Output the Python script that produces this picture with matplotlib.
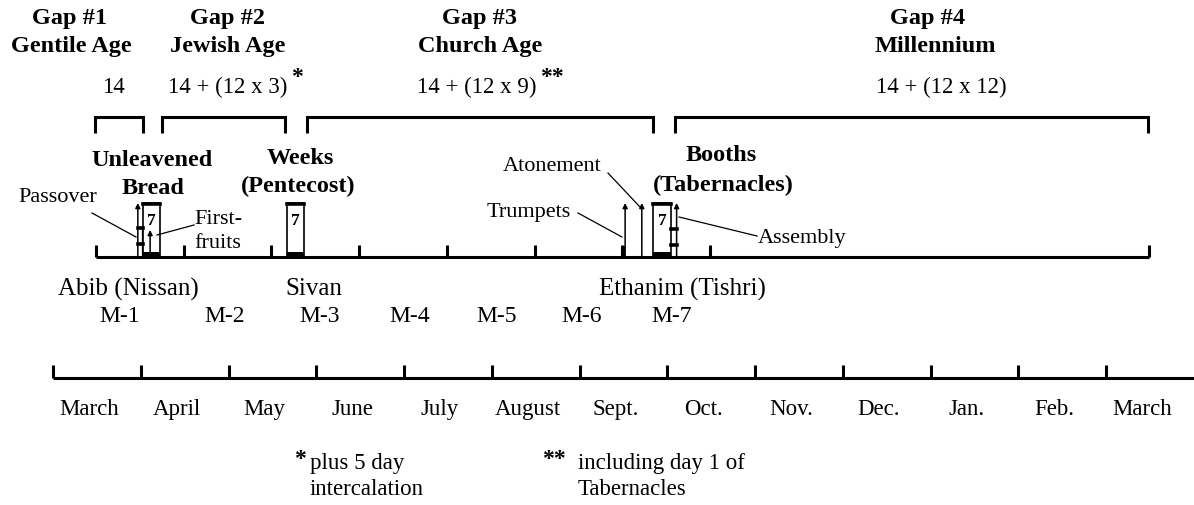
import matplotlib.pyplot as plt
from matplotlib.patches import Rectangle

SERIF = "Liberation Serif"

# solar calendar, counted in months from 1 March
solar_months = ["March", "April", "May", "June", "July", "August", "Sept.",
                "Oct.", "Nov.", "Dec.", "Jan.", "Feb.", "March"]

# lunar year starts about half a month after 1 March
lunar_start = 0.49
lunar_tick_months = [1, 2, 3, 4, 5, 6, 7, 8, 13]
lunar_labels = ["M-1", "M-2", "M-3", "M-4", "M-5", "M-6", "M-7"]
lunar_names = ["Abib (Nissan)", "Sivan", "Ethanim (Tishri)"]

# the four gaps (brackets), in months from 1 March
gap_titles = ["Gap #1", "Gap #2", "Gap #3", "Gap #4"]
gap_ages = ["Gentile Age", "Jewish Age", "Church Age", "Millennium"]
gap_counts = ["14", "14 + (12 x 3)", "14 + (12 x 9)", "14 + (12 x 12)"]
gap_marks = ["", "*", "**", ""]
gap_from = [0.48, 1.24, 2.90, 7.09]
gap_to = [1.03, 2.64, 6.84, 12.48]

# one-day feasts: lunar month, day
feast_names = ["Passover", "First-\nfruits", "Trumpets", "Atonement", "Assembly"]
feast_month = [1, 1, 7, 7, 7]
feast_day = [14.3, 18.5, 0.9, 6.6, 18.5]

# seven-day feasts: lunar month, first and last day
week_names = ["Unleavened\nBread", "Weeks\n(Pentecost)", "Booths\n(Tabernacles)"]
week_month = [1, 3, 7]
week_from = [16.0, 5.3, 10.4]
week_to = [22.0, 11.2, 16.6]


def lunar(month, day=0.0):
    return lunar_start + (month - 1) + day / 30.0


fig = plt.figure(figsize=(11.94, 5.06), dpi=100)
ax = fig.add_axes([0, 0, 1, 1])
ax.set_xlim(-53 / 87.75, 1141 / 87.75)
ax.set_ylim(506, 0)
ax.axis("off")
lay = fig.add_axes([0, 0, 1, 1])
lay.set_xlim(0, 1194)
lay.set_ylim(506, 0)
lay.axis("off")
lay.patch.set_alpha(0)

LW = 2.2
reg = dict(family=SERIF, fontsize=16.5, color="black")
bold = dict(family=SERIF, fontsize=17.5, fontweight="bold", color="black")

# ---- solar calendar line ----
ax.plot([0, ax.get_xlim()[1]], [379, 379], color="black", lw=LW, solid_capstyle="butt")
ax.vlines(range(len(solar_months)), 366, 379, color="black", lw=LW)
for i, name in enumerate(solar_months):
    ax.text(i + 0.41, 410, name, ha="center", va="center", **reg)

# ---- lunar line ----
ax.plot([lunar(1), lunar(13)], [258, 258], color="black", lw=LW, solid_capstyle="butt")
ax.vlines([lunar(m) for m in lunar_tick_months], 246, 258, color="black", lw=LW)

lunar_label_pos = [0.76, 1.95, 3.04, 4.07, 5.06, 6.02, 7.05]
for lab, x in zip(lunar_labels, lunar_label_pos):
    ax.text(x, 317, lab, ha="center", va="center", family=SERIF, fontsize=17)
for lab, x in zip(lunar_names, [0.86, 2.97, 7.17]):
    ax.text(x, 289, lab, ha="center", va="center", family=SERIF, fontsize=18)

# ---- seven-day feasts ----
for mo, d0, d1 in zip(week_month, week_from, week_to):
    x0, x1 = lunar(mo, d0), lunar(mo, d1)
    ax.add_patch(Rectangle((x0, 204), x1 - x0, 54, fill=False, ec="black", lw=1.2))
    ax.plot([x0, x1], [204.5, 204.5], color="black", lw=2.6, solid_capstyle="projecting")
    ax.add_patch(Rectangle((x0, 253), x1 - x0, 6, color="black", lw=0))
    ax.text((x0 + x1) / 2, 221, "7", ha="center", va="center", family=SERIF,
            fontsize=12.5, fontweight="bold")

# ---- one-day feasts (arrows) ----
arrow_top = [204, 231, 204, 204, 204]
feast_x = [lunar(mo, d) for mo, d in zip(feast_month, feast_day)]
for x, top in zip(feast_x, arrow_top):
    ax.annotate("", xy=(x, top), xytext=(x, 258),
                arrowprops=dict(arrowstyle="-|>", color="black", lw=1.1,
                                mutation_scale=7, shrinkA=0, shrinkB=0))

# passover / assembly small ladders next to the boxes
pass_x, assem_x = feast_x[0], feast_x[4]
ub_x0 = lunar(week_month[0], week_from[0])
bo_x1 = lunar(week_month[2], week_to[2])
ax.vlines([ub_x0 - 0.012], 229, 258, color="black", lw=0.9)
for y in (229, 245):
    ax.plot([pass_x, ub_x0], [y, y], color="black", lw=2.6)
    ax.plot([bo_x1, assem_x], [y + 1, y + 1], color="black", lw=2.6)
# trumpets block over the month-7 tick
ax.add_patch(Rectangle((lunar(7) - 0.012, 247), feast_x[2] - lunar(7) + 0.012, 11,
                       color="black", lw=0))

# ---- brackets ----
for a, b in zip(gap_from, gap_to):
    ax.plot([a, a, b, b], [134, 118, 118, 134], color="black", lw=LW,
            solid_joinstyle="miter", solid_capstyle="butt")

# ---- headers ----
title_x = [70, 228, 480, 928]
age_x = [71, 228, 480, 935]
count_x = [113, 228, 477, 941]
for t, a, c, tx, axx, cx in zip(gap_titles, gap_ages, gap_counts, title_x, age_x, count_x):
    lay.text(tx, 18, t, ha="center", va="center", **bold)
    lay.text(axx, 46, a, ha="center", va="center", **bold)
    lay.text(cx, 87, c, ha="center", va="center", **reg)
for mark, x in zip(gap_marks, [0, 297, 552, 0]):
    if mark:
        lay.text(x, 77, mark, ha="center", va="center", family=SERIF,
                 fontsize=17, fontweight="bold")

# feast labels
lay.text(152, 160, "Unleavened", ha="center", va="center", **bold)
lay.text(153, 188, "Bread", ha="center", va="center", **bold)
lay.text(300, 158, "Weeks", ha="center", va="center", **bold)
lay.text(298, 186, "(Pentecost)", ha="center", va="center", **bold)
lay.text(721, 155, "Booths", ha="center", va="center", **bold)
lay.text(723, 185, "(Tabernacles)", ha="center", va="center", **bold)

small = dict(family=SERIF, fontsize=16, color="black")
lay.text(18, 198, "Passover", ha="left", va="center", **small)
lay.text(194, 219, "First-", ha="left", va="center", **small)
lay.text(194, 243, "fruits", ha="left", va="center", **small)
lay.text(487, 212, "Trumpets", ha="left", va="center", **small)
lay.text(503, 166, "Atonement", ha="left", va="center", **small)
lay.text(758, 238, "Assembly", ha="left", va="center", **small)

leaders = [((92, 214), (136, 238)), ((194, 226), (157, 236)),
           ((578, 214), (622, 238)), ((608, 174), (640, 208)),
           ((679, 218), (757, 237))]
for (x0, y0), (x1, y1) in leaders:
    lay.plot([x0, x1], [y0, y1], color="black", lw=0.9)

# footnotes
lay.text(300, 460, "*", ha="center", va="center", family=SERIF, fontsize=17, fontweight="bold")
lay.text(310, 464, "plus 5 day", ha="left", va="center", **reg)
lay.text(310, 490, "intercalation", ha="left", va="center", **reg)
lay.text(554, 460, "**", ha="center", va="center", family=SERIF, fontsize=17, fontweight="bold")
lay.text(578, 464, "including day 1 of", ha="left", va="center", **reg)
lay.text(578, 490, "Tabernacles", ha="left", va="center", **reg)

fig.savefig("out.png", dpi=100, facecolor="white")
